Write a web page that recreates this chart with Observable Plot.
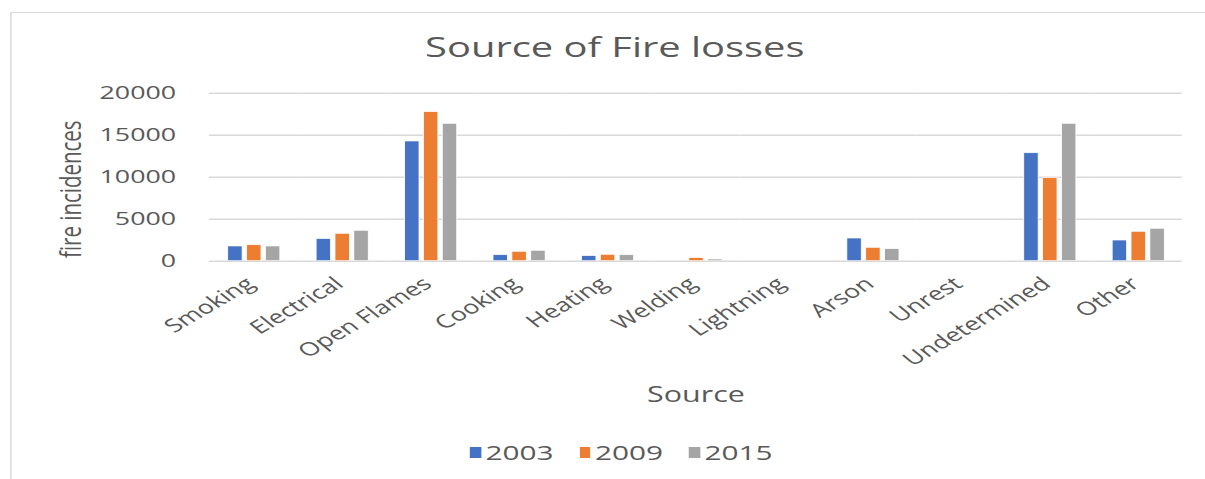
<!DOCTYPE html>
<html>
<head>
<meta charset="utf-8">
<script src="https://cdn.jsdelivr.net/npm/d3@7"></script>
<script src="https://cdn.jsdelivr.net/npm/@observablehq/plot@0.6"></script>
<style>
  html, body { margin: 0; padding: 0; background: #fff; overflow: hidden; }
  #wrap { position: absolute; left: 0; top: 0; width: 831px; height: 479px; transform: scaleX(1.45); transform-origin: 0 0; font-family: "Open Sans", sans-serif; color: #595959; }
  #frame { position: absolute; left: 6.9px; top: 12px; width: 900px; height: 600px; border: 1px solid #d9d9d9; }
  #title { position: absolute; left: 0; width: 848px; top: 30px; text-align: center; font-size: 27.5px; line-height: 34px; color: #595959; }
  #chart { position: absolute; left: 0; top: 75px; }
  #legend { position: absolute; left: 0; width: 857px; top: 438px; display: flex; justify-content: center; gap: 18px; font-size: 20.5px; line-height: 28px; }
  .item { display: flex; align-items: center; gap: 3px; }
  .sw { width: 7.6px; height: 11px; display: inline-block; }
</style>
</head>
<body>
<div id="wrap">
  <div id="frame"></div>
  <div id="title">Source of Fire losses</div>
  <div id="chart"></div>
  <div id="legend"></div>
</div>
<script>
const categories = ["Smoking","Electrical","Open Flames","Cooking","Heating","Welding","Lightning","Arson","Unrest","Undetermined","Other"];
const years = ["2003","2009","2015"];
const values2003 = [1750, 2620, 14250, 710, 600, 0, 0, 2700, 0, 12850, 2460];
const values2009 = [1900, 3260, 17740, 1120, 760, 360, 0, 1590, 0, 9880, 3500];
const values2015 = [1750, 3620, 16350, 1240, 710, 200, 0, 1430, 0, 16350, 3860];
const yTicks = [0, 5000, 10000, 15000, 20000];
const colors = ["#4472C4", "#ED7D31", "#A5A5A5"];

const series = [values2003, values2009, values2015];
const data = [];
categories.forEach((c, i) => years.forEach((y, j) => data.push({source: c, year: y, value: series[j][i]})));

const W = 831;
const plot = Plot.plot({
  width: W,
  height: 335,
  marginTop: 17.7,
  marginBottom: 149.3,
  marginLeft: 143,
  marginRight: 15,
  style: {fontFamily: "Open Sans", fontSize: "18.5px", color: "#595959", background: "transparent"},
  fx: {domain: categories, padding: 0},
  x: {domain: years, paddingInner: 0.25, paddingOuter: 0.89, axis: null},
  y: {domain: [0, 20000]},
  color: {domain: years, range: colors},
  marks: [
    Plot.gridY(yTicks, {stroke: "#d9d9d9", strokeOpacity: 1, strokeWidth: 1.5}),
    Plot.barY(data, {fx: "source", x: "year", y: "value", fill: "year", stroke: "white", strokeWidth: 0.6}),
    Plot.axisY(yTicks, {tickSize: 0, tickPadding: 23, tickFormat: d => String(d), label: "fire incidences", labelAnchor: "center", labelOffset: 103}),
    Plot.axisFx({anchor: "bottom", tickRotate: -40, tickSize: 0, tickPadding: 20, dx: -2, fontSize: 18.5, label: "Source", labelAnchor: "center", labelOffset: 141})
  ]
});
document.getElementById("chart").appendChild(plot);
const yl = plot.querySelector('[aria-label="y-axis label"]');
if (yl) {
  yl.style.fontSize = "20.5px";
  const t = yl.querySelector("text");
  if (t) {
    t.textContent = "fire incidences";
    t.setAttribute("transform", (t.getAttribute("transform") || "") + " translate(-12,0)");
  }
}
const fl = plot.querySelector('[aria-label="fx-axis label"]');
if (fl) {
  fl.style.fontSize = "21px";
  const t = fl.querySelector("text");
  if (t) t.textContent = "Source";
}

const legend = document.getElementById("legend");
years.forEach((y, i) => {
  const it = document.createElement("div");
  it.className = "item";
  const sw = document.createElement("span");
  sw.className = "sw";
  sw.style.background = colors[i];
  const t = document.createElement("span");
  t.textContent = y;
  it.appendChild(sw); it.appendChild(t);
  legend.appendChild(it);
});
</script>
</body>
</html>
